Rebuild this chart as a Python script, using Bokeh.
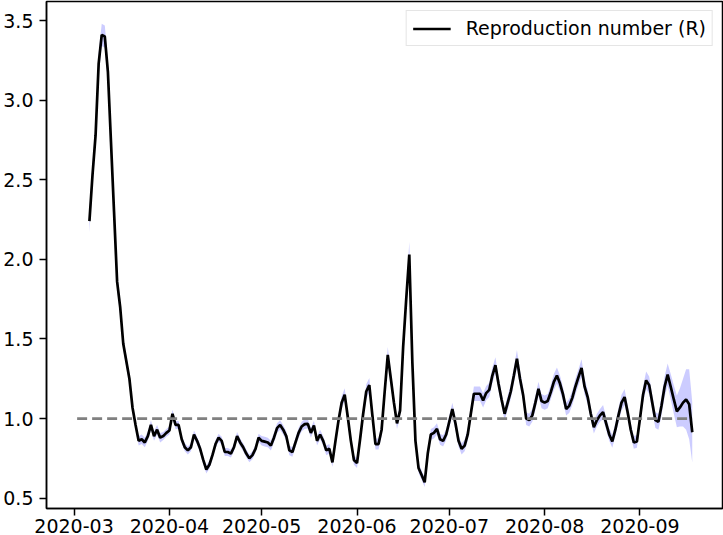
import pandas as pd
from bokeh.plotting import figure
from bokeh.models import (Range1d, DatetimeTickFormatter, FixedTicker, Legend, LegendItem,
                          PrintfTickFormatter)
from bokeh.embed import file_html
from bokeh.resources import INLINE

# ---- data ----
start_date = "2020-03-06"
r_values = [
    2.24, 2.53, 2.78, 3.23, 3.41, 3.40, 3.18, 2.74, 2.30, 1.86,
    1.70, 1.47, 1.36, 1.25, 1.07, 0.96, 0.86, 0.87, 0.85, 0.89,
    0.96, 0.89, 0.93, 0.88, 0.89, 0.91, 0.925, 1.03, 0.96, 0.96,
    0.87, 0.82, 0.80, 0.82, 0.90, 0.86, 0.81, 0.74, 0.68, 0.71,
    0.77, 0.84, 0.88, 0.86, 0.79, 0.79, 0.78, 0.82, 0.89, 0.85,
    0.82, 0.78, 0.75, 0.77, 0.81, 0.88, 0.86, 0.855, 0.85, 0.83,
    0.88, 0.94, 0.96, 0.93, 0.89, 0.80, 0.79, 0.85, 0.91, 0.95,
    0.965, 0.967, 0.91, 0.956, 0.86, 0.90, 0.86, 0.80, 0.81, 0.725,
    0.86, 0.99, 1.10, 1.15, 1.01, 0.86, 0.74, 0.72, 0.87, 1.03,
    1.17, 1.21, 1.02, 0.84, 0.84, 0.93, 1.17, 1.40, 1.25, 1.10,
    0.97, 1.05, 1.45, 1.75, 2.03, 1.35, 0.86, 0.69, 0.645, 0.60,
    0.78, 0.90, 0.91, 0.935, 0.87, 0.86, 0.90, 0.98, 1.06, 0.97,
    0.86, 0.81, 0.83, 0.90, 1.03, 1.156, 1.156, 1.156, 1.114, 1.16,
    1.18, 1.27, 1.335, 1.22, 1.12, 1.03, 1.10, 1.17, 1.27, 1.376,
    1.25, 1.15, 1.00, 0.99, 1.02, 1.10, 1.187, 1.11, 1.10, 1.11,
    1.166, 1.23, 1.27, 1.22, 1.15, 1.06, 1.08, 1.13, 1.20, 1.26,
    1.318, 1.20, 1.135, 1.03, 0.946, 0.99, 1.02, 1.04, 0.97, 0.90,
    0.856, 0.93, 1.02, 1.10, 1.135, 1.04, 0.93, 0.85, 0.856, 1.00,
    1.15, 1.24, 1.21, 1.10, 0.99, 0.98, 1.08, 1.20, 1.276, 1.20,
    1.12, 1.045, 1.07, 1.10, 1.12, 1.09, 0.914,
]
r_halfwidth = [
    0.07, 0.07, 0.07, 0.07, 0.07, 0.07, 0.07, 0.06, 0.06, 0.05,
    0.05, 0.04, 0.04, 0.03, 0.03, 0.03, 0.03, 0.03, 0.03, 0.03,
    0.03, 0.03, 0.03, 0.03, 0.025, 0.025, 0.025, 0.025, 0.025, 0.025,
    0.025, 0.025, 0.025, 0.025, 0.025, 0.025, 0.025, 0.025, 0.025, 0.025,
    0.025, 0.025, 0.025, 0.025, 0.025, 0.025, 0.025, 0.025, 0.025, 0.025,
    0.025, 0.025, 0.025, 0.025, 0.025, 0.025, 0.03, 0.03, 0.03, 0.03,
    0.03, 0.03, 0.03, 0.03, 0.03, 0.03, 0.03, 0.03, 0.03, 0.03,
    0.03, 0.03, 0.03, 0.03, 0.03, 0.03, 0.03, 0.03, 0.03, 0.03,
    0.03, 0.035, 0.04, 0.04, 0.035, 0.03, 0.03, 0.03, 0.035, 0.04,
    0.045, 0.045, 0.04, 0.035, 0.035, 0.04, 0.045, 0.05, 0.045, 0.04,
    0.035, 0.04, 0.05, 0.06, 0.08, 0.06, 0.035, 0.03, 0.03, 0.03,
    0.03, 0.035, 0.035, 0.035, 0.035, 0.035, 0.035, 0.04, 0.04, 0.04,
    0.035, 0.035, 0.035, 0.04, 0.04, 0.045, 0.045, 0.045, 0.045, 0.045,
    0.045, 0.05, 0.05, 0.045, 0.045, 0.04, 0.045, 0.045, 0.05, 0.055,
    0.05, 0.045, 0.04, 0.04, 0.04, 0.045, 0.045, 0.045, 0.045, 0.045,
    0.045, 0.05, 0.05, 0.05, 0.045, 0.04, 0.045, 0.045, 0.05, 0.05,
    0.055, 0.05, 0.045, 0.04, 0.04, 0.04, 0.04, 0.045, 0.04, 0.04,
    0.04, 0.04, 0.045, 0.05, 0.05, 0.045, 0.04, 0.04, 0.04, 0.045,
    0.05, 0.055, 0.055, 0.05, 0.05, 0.05, 0.06, 0.065, 0.07, 0.08,
    0.09, 0.10, 0.12, 0.15, 0.19, 0.22, 0.19,
]
threshold_value = 1.0
threshold_dates = ["2020-03-02", "2020-09-18"]
x_limits = ["2020-02-21 01:00", "2020-09-27 20:00"]
y_limits = [0.435, 3.62]
x_tick_labels = ["2020-03", "2020-04", "2020-05", "2020-06", "2020-07", "2020-08", "2020-09"]
y_ticks = [0.5, 1.0, 1.5, 2.0, 2.5, 3.0, 3.5]
legend_label = "Reproduction number (R)"

# ---- derived ----
dates = pd.date_range(start_date, periods=len(r_values), freq="D")
lower = [r - h for r, h in zip(r_values, r_halfwidth)]
upper = [r + h for r, h in zip(r_values, r_halfwidth)]
x_tick_ms = [pd.Timestamp(lbl + "-01").value // 10**6 for lbl in x_tick_labels]

FONT = "DejaVu Sans"
FSIZE = "19px"

p = figure(
    width=723, height=535,
    x_axis_type="datetime",
    x_range=Range1d(pd.Timestamp(x_limits[0]), pd.Timestamp(x_limits[1])),
    y_range=Range1d(y_limits[0], y_limits[1]),
    output_backend="svg", toolbar_location=None,
    min_border_left=10, min_border_right=1, min_border_top=1, min_border_bottom=5,
)
p.xgrid.visible = False
p.ygrid.visible = False
p.outline_line_color = "black"
p.outline_line_width = 1.5
p.background_fill_color = "white"
p.border_fill_color = "white"

p.varea(x=dates, y1=lower, y2=upper, fill_color="blue", fill_alpha=0.2)
r_line = p.line(dates, r_values, line_color="black", line_width=2.7)
p.line([pd.Timestamp(d) for d in threshold_dates], [threshold_value, threshold_value],
       line_color="gray", line_width=2.8, line_dash="10 5")

p.xaxis.ticker = FixedTicker(ticks=x_tick_ms)
fmt = "%Y-%m"
p.xaxis.formatter = DatetimeTickFormatter(
    microseconds=fmt, milliseconds=fmt, seconds=fmt, minsec=fmt, minutes=fmt,
    hourmin=fmt, hours=fmt, days=fmt, months=fmt, years=fmt)
p.yaxis.ticker = FixedTicker(ticks=y_ticks)
p.yaxis.formatter = PrintfTickFormatter(format="%.1f")

for ax in (p.xaxis[0], p.yaxis[0]):
    ax.axis_line_color = "black"
    ax.axis_line_width = 1.5
    ax.major_tick_line_color = "black"
    ax.major_tick_line_width = 1.5
    ax.major_tick_out = 7
    ax.major_tick_in = 0
    ax.minor_tick_out = 0
    ax.minor_tick_in = 0
    ax.major_label_standoff = 6
    ax.major_label_text_font = FONT
    ax.major_label_text_font_size = FSIZE
    ax.major_label_text_color = "black"
p.xaxis[0].major_label_standoff = 3

legend = Legend(
    items=[LegendItem(label=legend_label, renderers=[r_line])],
    location="top_right",
    margin=9,
    padding=6,
    glyph_width=38,
    glyph_height=19,
    label_standoff=15,
    label_text_font=FONT,
    label_text_font_size=FSIZE,
    label_text_color="black",
    border_line_color="#cccccc",
    border_line_width=1.3,
    background_fill_color="white",
    background_fill_alpha=0.8,
)
p.add_layout(legend)

open("out.html", "w").write(file_html(p, INLINE))
